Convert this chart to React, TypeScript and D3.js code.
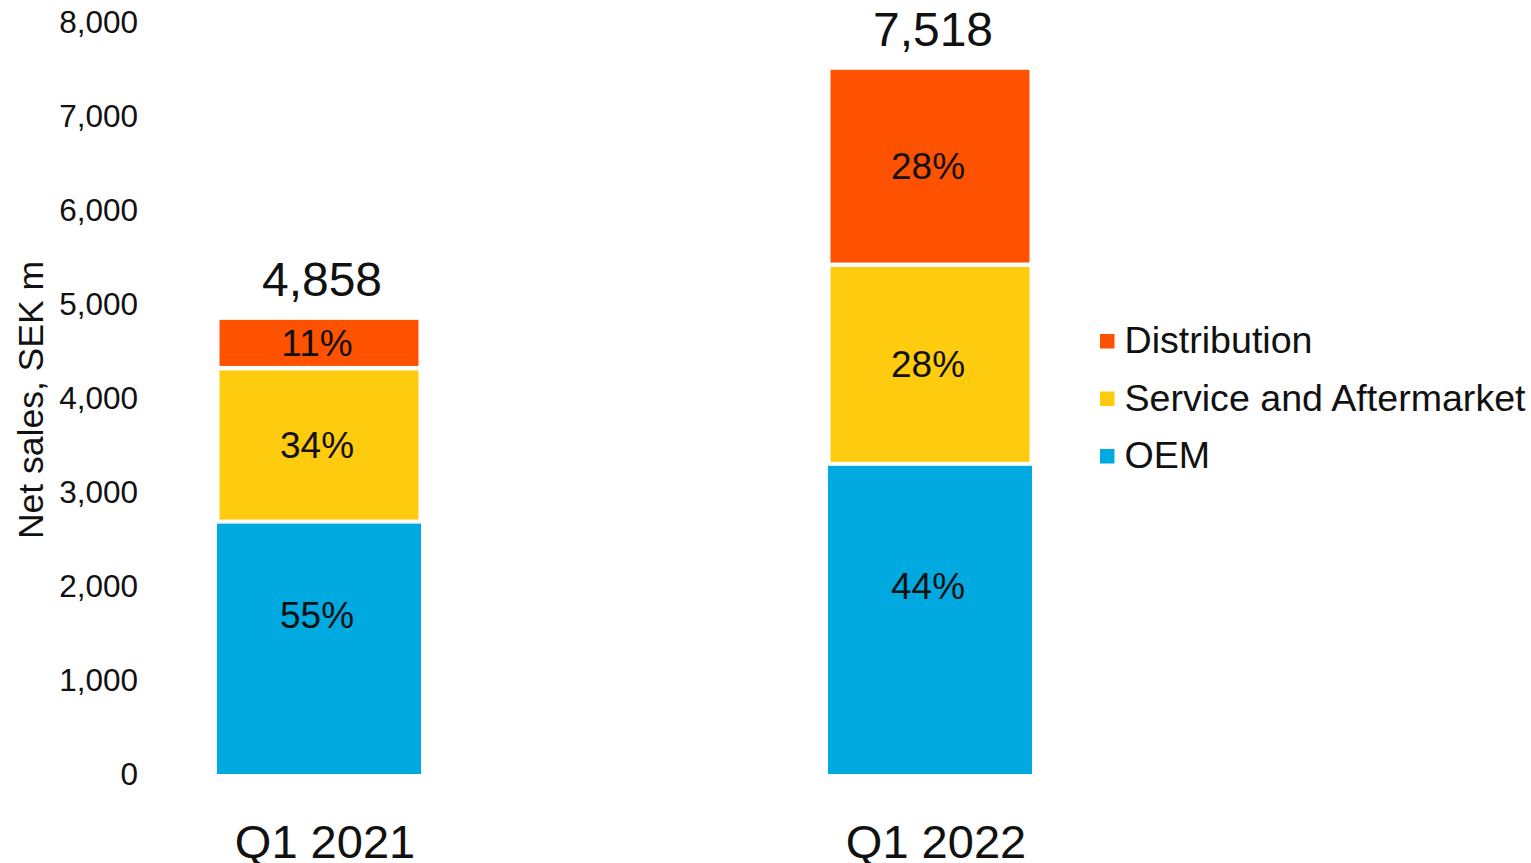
import React from "react";
import * as d3 from "d3";

const categories = ["Q1 2021", "Q1 2022"];
const oem = [2685, 3300];
const service = [1635, 2120];
const distribution = [538, 2098];
const yTicks = [0, 1000, 2000, 3000, 4000, 5000, 6000, 7000, 8000];
const seriesNames = ["OEM", "Service and Aftermarket", "Distribution"];
const legendOrder = ["Distribution", "Service and Aftermarket", "OEM"];

const COLORS: Record<string, string> = {
  OEM: "#00AAE0",
  "Service and Aftermarket": "#FECB0F",
  Distribution: "#FF5200",
};

const FONT = "'Liberation Sans', Arial, Helvetica, sans-serif";
const W = 1531;
const H = 863;

export default function App() {
  const y = d3.scaleLinear().domain([0, 8000]).range([774, 22]);
  const x = d3.scalePoint<string>().domain(categories).range([319, 930]);
  const barW = 204;
  const fmt = d3.format(",");

  const table = categories.map((c, i) => ({
    cat: c,
    OEM: oem[i],
    "Service and Aftermarket": service[i],
    Distribution: distribution[i],
  }));
  const stack = d3.stack<any>().keys(seriesNames)(table);

  return (
    <svg
      width={W}
      height={H}
      style={{ position: "absolute", left: 0, top: 0, background: "#fff" }}
      fontFamily={FONT}
    >
      {/* y axis labels */}
      {yTicks.map((t) => (
        <text
          key={t}
          x={138}
          y={y(t)}
          dy="0.35em"
          textAnchor="end"
          fontSize={31.5}
          fill="#111"
        >
          {fmt(t)}
        </text>
      ))}
      <text
        transform={`translate(43,400) rotate(-90)`}
        textAnchor="middle"
        fontSize={35.5}
        fill="#111"
      >
        Net sales, SEK m
      </text>

      {/* bars */}
      {stack.map((layer, li) =>
        layer.map((d, i) => {
          const isBottom = li === 0;
          const isTop = li === stack.length - 1;
          const inset = isBottom ? 0 : 2.5;
          const topInset = isTop ? 2.5 : isBottom ? 2 : 2.5;
          const botInset = isBottom ? 0 : 2;
          const cx = x(categories[i]) as number;
          const y0 = y(d[1]) + topInset;
          const y1 = y(d[0]) - botInset;
          const total = oem[i] + service[i] + distribution[i];
          const pct = Math.round(((d[1] - d[0]) / total) * 100);
          const labelShift = isBottom ? -33 : 0;
          return (
            <g key={`${li}-${i}`}>
              <rect
                x={cx - barW / 2 + inset}
                width={barW - 2 * inset}
                y={y0}
                height={y1 - y0}
                fill={COLORS[layer.key]}
              />
              <text
                x={cx - 2}
                y={(y(d[1]) + y(d[0])) / 2 + labelShift}
                dy="0.35em"
                textAnchor="middle"
                fontSize={37}
                fill="#111"
              >
                {pct}%
              </text>
            </g>
          );
        })
      )}

      {/* totals */}
      {categories.map((c, i) => {
        const total = oem[i] + service[i] + distribution[i];
        return (
          <text
            key={c}
            x={(x(c) as number) + 3}
            y={y(total) - 21}
            textAnchor="middle"
            fontSize={48}
            fill="#111"
          >
            {fmt(total)}
          </text>
        );
      })}

      {/* category labels */}
      {categories.map((c) => (
        <text
          key={c}
          x={(x(c) as number) + 6}
          y={858}
          textAnchor="middle"
          fontSize={47}
          fill="#111"
        >
          {c}
        </text>
      ))}

      {/* legend */}
      {legendOrder.map((name, i) => {
        const base = 353 + i * 57.5;
        return (
          <g key={name}>
            <rect x={1100} y={base - 19} width={14.5} height={14.5} fill={COLORS[name]} />
            <text x={1124.5} y={base} fontSize={37.6} fill="#111">
              {name}
            </text>
          </g>
        );
      })}
    </svg>
  );
}
